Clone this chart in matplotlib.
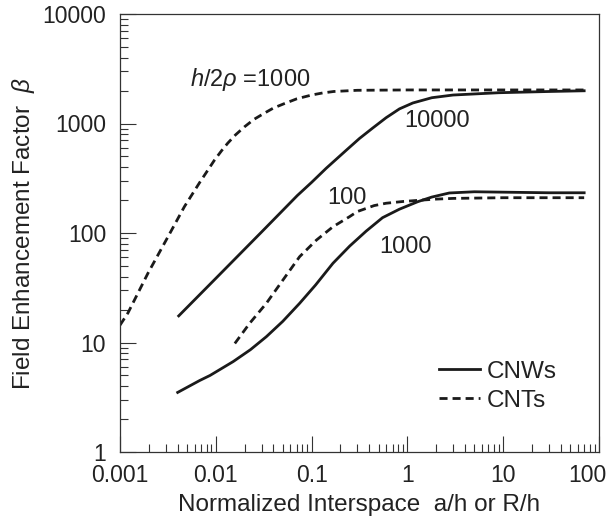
import matplotlib
matplotlib.use('Agg')
import matplotlib.pyplot as plt
import matplotlib.transforms as mtransforms
from matplotlib.ticker import FixedLocator, FixedFormatter, LogLocator, NullFormatter

plt.rcParams['font.family'] = ['Liberation Sans', 'DejaVu Sans']
plt.rcParams['mathtext.fontset'] = 'custom'
plt.rcParams['mathtext.rm'] = 'Liberation Sans'
plt.rcParams['mathtext.it'] = 'Liberation Sans:italic'

# CNTs, h/2rho = 1000 (dashed)
cnt1000_x = [0.001, 0.00121, 0.00196, 0.00316, 0.0047, 0.0068, 0.0097, 0.0115, 0.0133,
             0.016, 0.02, 0.025, 0.032, 0.04, 0.052, 0.07, 0.1, 0.13, 0.17, 0.3, 1, 10, 70]
cnt1000_y = [14.4, 18.6, 43, 92, 174, 290, 464, 565, 660,
             785, 935, 1090, 1240, 1385, 1520, 1680, 1820, 1900, 1960, 2010, 2025, 2025, 2025]

# CNWs, h/2rho = 10000 (solid)
cnw10000_x = [0.0041, 0.01, 0.03, 0.071, 0.1, 0.142, 0.23, 0.316, 0.435, 0.6, 0.826,
              1.14, 1.8, 3, 9, 30, 70]
cnw10000_y = [17.5, 38.5, 102, 220, 290, 390, 570, 730, 910, 1130, 1360,
              1540, 1720, 1820, 1910, 1960, 1990]

# CNTs, h/2rho = 100 (dashed)
cnt100_x = [0.0158, 0.0226, 0.0337, 0.0502, 0.075, 0.112, 0.167, 0.249, 0.3, 0.45, 0.6,
            0.9, 1.23, 2, 3, 10, 70]
cnt100_y = [9.8, 15, 22.8, 37.2, 60.8, 86, 114, 141, 157, 178, 187,
            194, 198, 204, 207, 210, 210]

# CNWs, h/2rho = 1000 (solid)
cnw1000_x = [0.004, 0.0068, 0.0087, 0.0152, 0.023, 0.0337, 0.05, 0.075, 0.11, 0.167,
             0.25, 0.371, 0.55, 0.826, 1.28, 1.8, 2.74, 5, 10, 30, 70]
cnw1000_y = [3.5, 4.5, 5.0, 6.7, 8.6, 11.3, 15.6, 22.8, 33.5, 52.9,
             76, 104, 138, 165, 193, 213, 232, 238, 236, 233, 233]

xticks = [0.001, 0.01, 0.1, 1, 10, 100]
xtick_labels = ['0.001', '0.01', '0.1', '1', '10', '100']
yticks = [1, 10, 100, 1000, 10000]
ytick_labels = ['1', '10', '100', '1000', '10000']

line_col = '#1a1a1a'
txt_col = '#222222'

fig = plt.figure(figsize=(6.08, 5.24), dpi=100)
ax = fig.add_axes([120/608, 1-452/524, 479/608, 438/524])

ax.plot(cnw10000_x, cnw10000_y, '-', color=line_col, lw=2.0, label='CNWs')
ax.plot(cnw1000_x, cnw1000_y, '-', color=line_col, lw=2.0)
ax.plot(cnt1000_x, cnt1000_y, color=line_col, lw=2.0, dashes=(2.9, 1.8), label='CNTs')
ax.plot(cnt100_x, cnt100_y, color=line_col, lw=2.0, dashes=(2.9, 1.8))

ax.set_xscale('log')
ax.set_yscale('log')
ax.set_xlim(0.001, 100)
ax.set_ylim(1, 10000)

ax.xaxis.set_major_locator(FixedLocator(xticks))
ax.xaxis.set_major_formatter(FixedFormatter(xtick_labels))
ax.yaxis.set_major_locator(FixedLocator(yticks))
ax.yaxis.set_major_formatter(FixedFormatter(ytick_labels))
ax.xaxis.set_minor_locator(LogLocator(base=10, subs=range(2, 10)))
ax.yaxis.set_minor_locator(LogLocator(base=10, subs=range(2, 10)))
ax.xaxis.set_minor_formatter(NullFormatter())
ax.yaxis.set_minor_formatter(NullFormatter())

ax.tick_params(which='both', direction='in', top=False, right=False,
               color='#333333', width=0.8, labelcolor=txt_col, labelsize=16.5)
ax.tick_params(which='major', length=11.5)
ax.tick_params(which='minor', length=6)
ax.tick_params(axis='x', which='major', pad=8.5)
ax.tick_params(axis='y', which='major', pad=10)

# last x label sits a bit left of its tick in the reference
fig.canvas.draw()
last = ax.get_xticklabels()[-1]
last.set_transform(last.get_transform() +
                   mtransforms.ScaledTranslation(-12/100, 0, fig.dpi_scale_trans))

for s in ax.spines.values():
    s.set_color('#333333')
    s.set_linewidth(0.9)

ax.set_xlabel('Normalized Interspace  a/h or R/h', fontsize=17.5, color=txt_col)
ax.set_ylabel(r'Field Enhancement Factor  $\beta$', fontsize=17.5, color=txt_col)
ax.xaxis.set_label_coords(0.5, -0.097)
ax.yaxis.set_label_coords(-0.173, 0.50)

ax.text(0.0054, 2500, r'$h$/2$\rho$ =1000', fontsize=17, color=txt_col, ha='left', va='center')
ax.text(0.93, 1050, '10000', fontsize=17, color=txt_col, ha='left', va='center')
ax.text(0.147, 209, '100', fontsize=17, color=txt_col, ha='left', va='center')
ax.text(0.51, 74.6, '1000', fontsize=17, color=txt_col, ha='left', va='center')

leg = ax.legend(loc='lower left', bbox_to_anchor=(0.666, 0.092), frameon=False,
                fontsize=17.5, handlelength=1.69, handletextpad=0.29,
                labelspacing=0.28, borderpad=0, borderaxespad=0)
for t in leg.get_texts():
    t.set_color(txt_col)

fig.savefig('out.png', dpi=100)
